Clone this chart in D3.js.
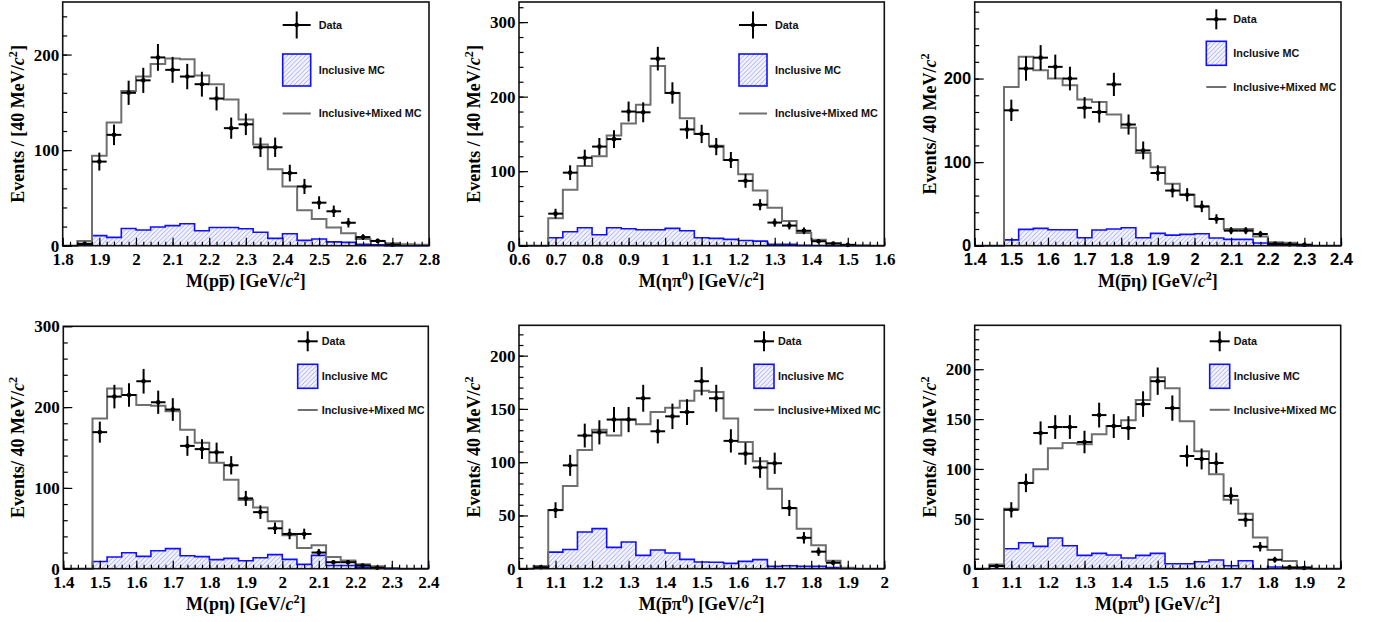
<!DOCTYPE html>
<html>
<head>
<meta charset="utf-8">
<script src="https://cdn.jsdelivr.net/npm/d3@7"></script>
<style>
  body { margin: 0; background: #fff; }
  svg { display: block; }
</style>
</head>
<body>
<div id="chart"></div>
<script>
// all histograms use 40 MeV bins
const binWidth = 0.04;

// M(p pbar)
const ppStart = 1.84;
const ppData = [2, 88, 116, 160, 173, 197, 184, 177, 169, 154, 123, 127, 103, 103, 76, 62, 45, 36, 24, 9, 5, 1];
const ppMixed = [5, 94, 129, 162, 177, 190, 196, 195, 178, 169, 153, 132, 106, 80, 62, 37, 28, 19, 13, 7, 5, 2.5, 1.5, 1];
const ppIncl = [1, 10.5, 8.7, 18, 16.4, 19.5, 21, 23, 15.7, 19, 19, 17.8, 14, 7.7, 12.5, 5.6, 7, 4, 3.5, 1.4, 1];

// M(eta pi0)
const etaPiStart = 0.68;
const etaPiData = [43, 98, 118, 133, 143, 180, 179, 251, 205, 156, 150, 133, 115, 87, 55, 31, 27, 20, 6, 3, 1];
const etaPiMixed = [37, 75, 107, 120, 148, 164, 189, 241, 205, 171, 150, 134, 115, 96, 74, 51, 33, 17, 8, 3, 1.3, 0.5];
const etaPiIncl = [10.7, 18.8, 24, 14.7, 24, 22.8, 21.4, 21.4, 23.2, 20, 10.7, 9.8, 8.5, 7, 6.2, 1.8, 1.8, 0.5, 0.3];

// M(pbar eta)
const pbarEtaStart = 1.48;
const pbarEtaData = [162, 212, 225, 214, 200, 165, 160, 193, 145, 114, 87, 66, 61, 47, 32, 18, 18, 14, 2.4, 1.6, 1.2];
const pbarEtaMixed = [190, 226, 210, 200, 192, 175, 172, 157, 141, 111, 94, 74, 61, 47, 32, 20, 20, 11, 4, 3.5, 0.5];
const pbarEtaIncl = [7, 19.5, 20.7, 19, 19, 9.6, 18.7, 20, 21.5, 9.6, 14.7, 12.7, 13.5, 14.3, 9.2, 7.6, 7.6, 3.2, 1.6, 1.2];

// M(p eta)
const pEtaStart = 1.48;
const pEtaData = [169, 213, 215, 232, 206, 197, 152, 148, 144, 128, 87, 70, 50, 43, 43, 20, 8, 8, 4, 1.2];
const pEtaMixed = [186, 223, 215, 202.5, 201.6, 195, 172, 156, 131, 110, 85, 75.6, 58.7, 41.3, 25.6, 29, 14.5, 10.3, 5.4, 3, 0.8];
const pEtaIncl = [9, 14.5, 19.8, 15.3, 22.3, 24.8, 16, 14.9, 11.2, 12.8, 9.9, 13.6, 17.4, 11.6, 5.4, 16.5, 4, 4, 1.6, 0.8];

// M(pbar pi0)
const pbarPiStart = 1.04;
const pbarPiData = [1.3, 55, 97, 125, 128, 140, 140, 160, 129, 143, 147, 176, 160, 120, 108, 95, 99, 57, 29, 16, 5.6];
const pbarPiMixed = [2.5, 55, 77.6, 111.4, 130.5, 125, 140, 135.5, 147, 151, 157.7, 167, 166, 141, 119, 100.8, 75, 56.7, 37.6, 22, 7.5, 1];
const pbarPiIncl = [1.3, 15.6, 18, 34.4, 37.6, 20, 25, 12.5, 17.5, 14.7, 8.8, 6.3, 6, 5, 6.9, 8.5, 2.2, 2.8, 2.2, 2.2, 1, 0.3];

// M(p pi0)
const pPiStart = 1.04;
const pPiData = [2.7, 59, 86, 136, 142, 142, 127, 154, 143, 141, 165, 188, 161, 113, 110, 106, 73, 49, 22, 9, 1.3, 0.7];
const pPiMixed = [4.3, 60, 86, 99.7, 120.7, 126, 124.7, 134.8, 143, 148.8, 169, 192, 181, 147.8, 117.7, 94.6, 69, 55, 31.4, 18.7, 7.7, 1.7];
const pPiIncl = [2.7, 20, 26, 22.4, 30.8, 23, 13.4, 15.4, 13.7, 10.7, 13.4, 15.4, 5, 5, 7, 8.7, 3, 8, 0, 1.7, 0.7, 0.3];

const legendLabels = ["Data", "Inclusive MC", "Inclusive+Mixed MC"];

// titles, as runs of text
const cSq = [{ t: "c", it: true }, { t: "2", sup: true }];
const yTitleBracket = [{ t: "Events / [40 MeV/" }, ...cSq, { t: "]" }];
const yTitlePlain = [{ t: "Events/ 40 MeV/" }, ...cSq];
const gev = [{ t: ") [GeV/" }, ...cSq, { t: "]" }];
const xTitles = [
  [{ t: "M(p" }, { t: "p", over: true }, ...gev],
  [{ t: "M(ηπ" }, { t: "0", sup: true }, ...gev],
  [{ t: "M(" }, { t: "p", over: true }, { t: "η" }, ...gev],
  [{ t: "M(pη" }, ...gev],
  [{ t: "M(" }, { t: "p", over: true }, { t: "π" }, { t: "0", sup: true }, ...gev],
  [{ t: "M(pπ" }, { t: "0", sup: true }, ...gev]
];

const SERIF = "'Liberation Serif', 'Times New Roman', serif";
const SANS = "'Liberation Sans', Arial, sans-serif";

// big legend for the two first panels, smaller one for the rest
const bigLeg = { dx: 220, crossY: 23, boxY: 52, boxW: 28, boxH: 32, lineY: 111.5, textDx: 36, crossH: 27 };
const smallLeg = { dx: 235, crossY: 16, boxY: 39, boxW: 20, boxH: 24, lineY: 84.5, textDx: 24, crossH: 20 };

const panels = [
  { start: ppStart, data: ppData, mixed: ppMixed, incl: ppIncl, xDom: [1.8, 2.8], yMax: 255, yStep: 100, yMinor: 20,
    left: 62.7, right: 429, top: 2, bottom: 245.7, tickFont: SERIF, yTitle: yTitleBracket, xTitle: xTitles[0], leg: bigLeg },
  { start: etaPiStart, data: etaPiData, mixed: etaPiMixed, incl: etaPiIncl, xDom: [0.6, 1.6], yMax: 327, yStep: 100, yMinor: 20,
    left: 519, right: 884.3, top: 2, bottom: 245.7, tickFont: SERIF, yTitle: yTitleBracket, xTitle: xTitles[1], leg: bigLeg },
  { start: pbarEtaStart, data: pbarEtaData, mixed: pbarEtaMixed, incl: pbarEtaIncl, xDom: [1.4, 2.4], yMax: 291.6, yStep: 100, yMinor: 20,
    left: 974.7, right: 1341, top: 2, bottom: 245.7, tickFont: SANS, yTitle: yTitlePlain, xTitle: xTitles[2], leg: Object.assign({}, smallLeg, { dx: 231.6, crossY: 17.3, boxY: 39.3, lineY: 85, textDx: 27 }) },
  { start: pEtaStart, data: pEtaData, mixed: pEtaMixed, incl: pEtaIncl, xDom: [1.4, 2.4], yMax: 300, yStep: 100, yMinor: 20,
    left: 63.3, right: 428.3, top: 326.3, bottom: 568.7, tickFont: SERIF, yTitle: yTitlePlain, xTitle: xTitles[3], leg: Object.assign({}, smallLeg, { dx: 234.4, crossY: 15, boxY: 38, lineY: 83.7 }) },
  { start: pbarPiStart, data: pbarPiData, mixed: pbarPiMixed, incl: pbarPiIncl, xDom: [1.0, 2.0], yMax: 228.5, yStep: 50, yMinor: 10,
    left: 519, right: 884.3, top: 325.3, bottom: 568.7, tickFont: SERIF, yTitle: yTitlePlain, xTitle: xTitles[4], leg: smallLeg },
  { start: pPiStart, data: pPiData, mixed: pPiMixed, incl: pPiIncl, xDom: [1.0, 2.0], yMax: 244, yStep: 50, yMinor: 10,
    left: 974.7, right: 1340.7, top: 325.3, bottom: 568.7, tickFont: SERIF, yTitle: yTitlePlain, xTitle: xTitles[5], leg: smallLeg }
];

const svg = d3.select("#chart").append("svg")
  .attr("width", 1377)
  .attr("height", 622)
  .style("background", "#fff");

// hatch for the inclusive MC
const pat = svg.append("defs").append("pattern")
  .attr("id", "hatch")
  .attr("patternUnits", "userSpaceOnUse")
  .attr("width", 4.5)
  .attr("height", 4.5);
pat.append("rect").attr("width", 4.5).attr("height", 4.5).attr("fill", "#f3f3ff");
pat.append("path")
  .attr("d", "M0,4.5L4.5,0M-1,1L1,-1M3.5,5.5L5.5,3.5")
  .attr("stroke", "#9ea2ee")
  .attr("stroke-width", 0.9);

// writes runs of text into a <text>; returns char indexes that need an overline
function writeRuns(text, runs, size) {
  const over = [];
  let n = 0, shifted = false;
  runs.forEach((r) => {
    const ts = text.append("tspan").text(r.t);
    if (r.it) ts.attr("font-style", "italic");
    if (r.sup) {
      ts.attr("font-size", size * 0.68).attr("dy", -size * 0.38);
      shifted = true;
    } else if (shifted) {
      ts.attr("dy", size * 0.38);
      shifted = false;
    }
    if (r.over) over.push(n);
    n += r.t.length;
  });
  return over;
}

function stepPoints(start, vals, dom) {
  const pts = [[dom[0], 0]];
  vals.forEach((v, i) => pts.push([start + i * binWidth, v]));
  pts.push([start + vals.length * binWidth, 0]);
  pts.push([dom[1], 0]);
  return pts;
}

panels.forEach((p) => {
  const x = d3.scaleLinear().domain(p.xDom).range([p.left, p.right]);
  const y = d3.scaleLinear().domain([0, p.yMax]).range([p.bottom, p.top]);
  const g = svg.append("g");

  const line = d3.line().x((d) => x(d[0])).y((d) => y(d[1])).curve(d3.curveStepAfter);
  const area = d3.area().x((d) => x(d[0])).y0(y(0)).y1((d) => y(d[1])).curve(d3.curveStepAfter);

  // inclusive MC, hatched
  const inclPts = stepPoints(p.start, p.incl, p.xDom);
  g.append("path").attr("d", area(inclPts)).attr("fill", "url(#hatch)");
  g.append("path").attr("d", line(inclPts))
    .attr("fill", "none").attr("stroke", "#1010ff").attr("stroke-width", 1.6);

  // inclusive + mixed MC
  g.append("path").attr("d", line(stepPoints(p.start, p.mixed, p.xDom)))
    .attr("fill", "none").attr("stroke", "#6f6f6f").attr("stroke-width", 2);

  // data points with sqrt(N) errors
  const pts = g.selectAll(".pt").data(p.data).join("g").attr("class", "pt");
  const cx = (i) => p.start + binWidth * (i + 0.5);
  pts.append("line")
    .attr("x1", (d, i) => x(cx(i) - binWidth / 2))
    .attr("x2", (d, i) => x(cx(i) + binWidth / 2))
    .attr("y1", (d) => y(d)).attr("y2", (d) => y(d))
    .attr("stroke", "#000").attr("stroke-width", 2);
  pts.append("line")
    .attr("x1", (d, i) => x(cx(i))).attr("x2", (d, i) => x(cx(i)))
    .attr("y1", (d) => y(Math.max(0, d - Math.sqrt(d))))
    .attr("y2", (d) => y(d + Math.sqrt(d)))
    .attr("stroke", "#000").attr("stroke-width", 2);
  pts.append("circle")
    .attr("cx", (d, i) => x(cx(i))).attr("cy", (d) => y(d))
    .attr("r", 2.3).attr("fill", "#000");

  // frame
  g.append("rect")
    .attr("x", p.left).attr("y", p.top)
    .attr("width", p.right - p.left).attr("height", p.bottom - p.top)
    .attr("fill", "none").attr("stroke", "#111").attr("stroke-width", 1.6);

  // axes, ticks pointing inside like ROOT
  const fmt = d3.format(".1~f");
  const xMaj = g.append("g").attr("transform", `translate(0,${p.bottom})`)
    .call(d3.axisBottom(x).ticks(10).tickSize(-8).tickSizeOuter(0).tickPadding(7.5).tickFormat(fmt));
  const xMin = g.append("g").attr("transform", `translate(0,${p.bottom})`)
    .call(d3.axisBottom(x).ticks(50).tickSize(-4).tickSizeOuter(0).tickFormat(""));
  const yMaj = g.append("g").attr("transform", `translate(${p.left},0)`)
    .call(d3.axisLeft(y).tickValues(d3.range(0, p.yMax + 1e-6, p.yStep)).tickSize(-9).tickSizeOuter(0).tickPadding(3.5));
  const yMin = g.append("g").attr("transform", `translate(${p.left},0)`)
    .call(d3.axisLeft(y).tickValues(d3.range(0, p.yMax, p.yMinor)).tickSize(-4.5).tickSizeOuter(0).tickFormat(""));
  [xMaj, xMin, yMaj, yMin].forEach((a) => {
    a.select(".domain").remove();
    a.selectAll(".tick line").attr("stroke", "#000").attr("stroke-width", 1.2);
  });
  [xMaj, yMaj].forEach((a) => {
    a.selectAll("text")
      .attr("font-family", p.tickFont)
      .attr("font-weight", "bold")
      .attr("font-size", p.tickFont === SANS ? 16.5 : 17)
      .attr("fill", "#000");
  });

  // axis titles
  const yt = g.append("text")
    .attr("transform", `translate(${p.left - 39},${(p.top + p.bottom) / 2}) rotate(-90)`)
    .attr("text-anchor", "middle")
    .attr("font-family", SERIF).attr("font-weight", "bold").attr("font-size", 18);
  writeRuns(yt, p.yTitle, 18);

  const xtG = g.append("g").attr("transform", `translate(${(p.left + p.right) / 2},${p.bottom + 41.5})`);
  const xt = xtG.append("text")
    .attr("text-anchor", "middle")
    .attr("font-family", SERIF).attr("font-weight", "bold").attr("font-size", 18);
  const overIdx = writeRuns(xt, p.xTitle, 18);
  overIdx.forEach((i) => {
    const a = xt.node().getStartPositionOfChar(i);
    const b = xt.node().getEndPositionOfChar(i);
    xtG.append("line")
      .attr("x1", a.x + 0.5).attr("x2", b.x - 0.5)
      .attr("y1", -11.5).attr("y2", -11.5)
      .attr("stroke", "#000").attr("stroke-width", 1.5);
  });

  // legend
  const L = p.leg;
  const lx = p.left + L.dx;
  const lg = g.append("g").attr("transform", `translate(${lx},${p.top})`);
  const ccx = L.boxW / 2;
  lg.append("line").attr("x1", 0).attr("x2", L.boxW).attr("y1", L.crossY).attr("y2", L.crossY)
    .attr("stroke", "#000").attr("stroke-width", 2);
  lg.append("line").attr("x1", ccx).attr("x2", ccx)
    .attr("y1", L.crossY - L.crossH / 2).attr("y2", L.crossY + L.crossH / 2)
    .attr("stroke", "#000").attr("stroke-width", 2);
  lg.append("circle").attr("cx", ccx).attr("cy", L.crossY).attr("r", 2.3).attr("fill", "#000");
  lg.append("rect").attr("x", 0).attr("y", L.boxY).attr("width", L.boxW).attr("height", L.boxH)
    .attr("fill", "url(#hatch)").attr("stroke", "#1010ff").attr("stroke-width", 1.6);
  lg.append("line").attr("x1", 0).attr("x2", L.boxW).attr("y1", L.lineY).attr("y2", L.lineY)
    .attr("stroke", "#6f6f6f").attr("stroke-width", 2);
  const rowsY = [L.crossY, L.boxY + L.boxH / 2, L.lineY];
  lg.selectAll(".lt").data(legendLabels).join("text")
    .attr("class", "lt")
    .attr("x", L.textDx)
    .attr("y", (d, i) => rowsY[i])
    .attr("dy", "0.36em")
    .attr("font-family", SANS).attr("font-weight", "bold").attr("font-size", 10.8)
    .attr("fill", "#111")
    .text((d) => d);
});
</script>
</body>
</html>
